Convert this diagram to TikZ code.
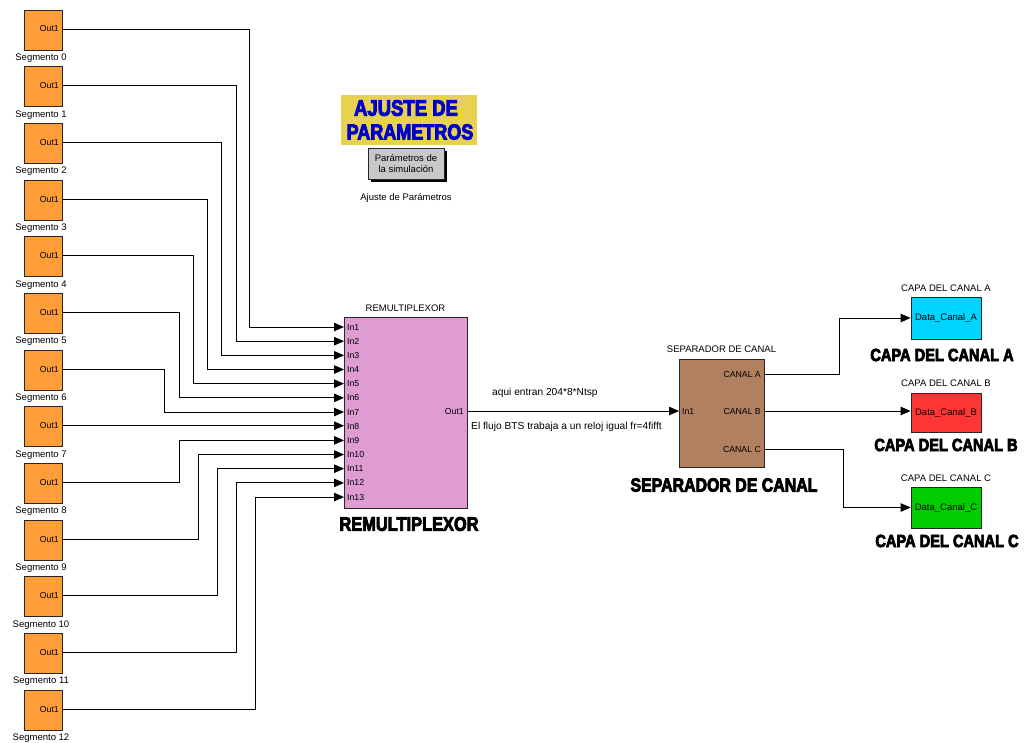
\documentclass[tikz,border=0pt]{standalone}
\usepackage{fontspec}
\setmainfont{Liberation Sans}
\newfontfamily\heavyfont{Liberation Sans}[BoldFeatures={FakeBold=4.5}]
\usetikzlibrary{arrows.meta}
\definecolor{segorange}{RGB}{255,158,56}
\definecolor{remuxpink}{RGB}{222,156,210}
\definecolor{sepbrown}{RGB}{176,128,96}
\definecolor{cyanblk}{RGB}{0,212,255}
\definecolor{redblk}{RGB}{255,53,53}
\definecolor{greenblk}{RGB}{0,204,0}
\definecolor{grayblk}{RGB}{200,200,200}
\definecolor{yellowbg}{RGB}{232,209,79}
\definecolor{titleblue}{RGB}{0,0,204}
\newcommand\lblfont{\fontsize{9.5}{11}\selectfont}
\newcommand\notefont{\fontsize{10.2}{12}\selectfont}
\newcommand\portfont{\fontsize{8.7}{10}\selectfont}
\newcommand\heavytext[2]{\scalebox{1}[1.2]{\heavyfont\bfseries\fontsize{#1}{#1}\selectfont #2}}
\begin{document}
\begin{tikzpicture}[x=1pt,y=-1pt,
  blk/.style={draw=black!85, line width=0.8pt, inner sep=0pt},
  seg/.style={blk, fill=segorange, minimum width=38pt, minimum height=40pt},
  lbl/.style={font=\lblfont, inner sep=0pt},
  note/.style={font=\notefont, inner sep=0pt},
  port/.style={font=\portfont, inner sep=0pt},
  heavy/.style={inner sep=0pt},
  wire/.style={draw=black, line width=0.8pt},
  arr/.style={wire, -{Triangle[length=10pt,width=8.5pt]}}
]
\useasboundingbox (0,0) rectangle (1024,742);
\fill[white] (0,0) rectangle (1024,742);

% segment sources
\foreach \i in {0,...,12}{
  \pgfmathsetmacro\yy{29+56.67*\i}
  \node[seg] (s\i) at (43,\yy+1) {};
  \coordinate (so\i) at (62,\yy);
  \node[port, anchor=east] (sl\i) at (59,\yy) {Out1};
  \node[lbl] (sn\i) at (41,\yy+29) {Segmento \i};
}

% remultiplexor
\node[blk, fill=remuxpink, minimum width=123pt, minimum height=191pt] (rm) at (405.5,412.5) {};
\node[lbl] (rmt) at (405.5,308) {REMULTIPLEXOR};
\node[heavy] (rmh) at (409,524) {\heavytext{16.4}{REMULTIPLEXOR}};
\foreach \j in {1,...,13}{
  \pgfmathsetmacro\yy{327+14.17*(\j-1)}
  \coordinate (in\j) at (344,\yy);
  \node[port, anchor=west] (il\j) at (347,\yy) {In\j};
}
\coordinate (rmo) at (467,411);
\node[port, anchor=east] (rmol) at (464,411) {Out1};

% wires segment -> remux
\foreach \i/\j/\xv in {0/1/249, 1/2/236, 2/3/221, 3/4/207, 4/5/193, 5/6/179, 6/7/164, 8/9/179, 9/10/198, 10/11/217, 11/12/236, 12/13/255}{
  \coordinate (v\i) at (\xv,0);
  \draw[arr] (so\i) -- (so\i -| v\i) |- (in\j);
}
\draw[arr] (so7) -- (so7 -| in8);

% ajuste de parametros
\node[fill=yellowbg, minimum width=136pt, minimum height=50pt, inner sep=0pt] (aj) at (409,120) {};
\node[heavy, text=titleblue] (aj1) at (406,108) {\heavytext{18.5}{AJUSTE DE}};
\node[heavy, text=titleblue] (aj2) at (410,132) {\heavytext{18}{PARAMETROS}};
\fill[black] (371,151) rectangle (447,182);
\node[blk, fill=grayblk, minimum width=76pt, minimum height=31pt, align=center, font=\lblfont] (par) at (406,163.5) {Parámetros de\\[0.5pt]la simulación};
\node[lbl] (parl) at (406,198) {Ajuste de Parámetros};

% separador
\node[blk, fill=sepbrown, minimum width=85pt, minimum height=108pt] (sep) at (721.5,413) {};
\node[lbl] (sept) at (721.5,349) {SEPARADOR DE CANAL};
\node[heavy] (seph) at (724,485) {\heavytext{15.9}{SEPARADOR DE CANAL}};
\coordinate (sepin) at (679,411);
\node[port, anchor=west] (sepinl) at (682,411) {In1};
\coordinate (ca) at (764,374);
\coordinate (cb) at (764,411);
\coordinate (cc) at (764,449);
\node[port, anchor=east] (cal) at (761,374) {CANAL A};
\node[port, anchor=east] (cbl) at (761,411) {CANAL B};
\node[port, anchor=east] (ccl) at (761,449) {CANAL C};

\draw[arr] (rmo) -- (sepin);
\node[note, anchor=west] (t1) at (492,393) {aqui entran 204*8*Ntsp};
\node[note, anchor=west] (t2) at (471,427) {El flujo BTS trabaja a un reloj igual fr=4fifft};

% channel layers
\node[blk, fill=cyanblk, minimum width=70pt, minimum height=42pt, font=\lblfont] (da) at (946,318) {Data\_Canal\_A};
\node[blk, fill=redblk, minimum width=70pt, minimum height=39pt, font=\lblfont] (db) at (946,412.5) {Data\_Canal\_B};
\node[blk, fill=greenblk, minimum width=70pt, minimum height=41pt, font=\lblfont] (dc) at (946,507.5) {Data\_Canal\_C};
\node[lbl] (dat) at (946,288) {CAPA DEL CANAL A};
\node[lbl] (dbt) at (946,383) {CAPA DEL CANAL B};
\node[lbl] (dct) at (946,478) {CAPA DEL CANAL C};
\node[heavy] (dah) at (942,355) {\heavytext{14.6}{CAPA DEL CANAL A}};
\node[heavy] (dbh) at (946,445) {\heavytext{14.6}{CAPA DEL CANAL B}};
\node[heavy] (dch) at (947,541) {\heavytext{14.6}{CAPA DEL CANAL C}};

\coordinate (va) at (839,0);
\coordinate (vc) at (843,0);
\draw[arr] (ca) -- (ca -| va) |- (da.west);
\draw[arr] (cb) -- (cb -| db.west);
\draw[arr] (cc) -- (cc -| vc) |- (dc.west);
\end{tikzpicture}
\end{document}
